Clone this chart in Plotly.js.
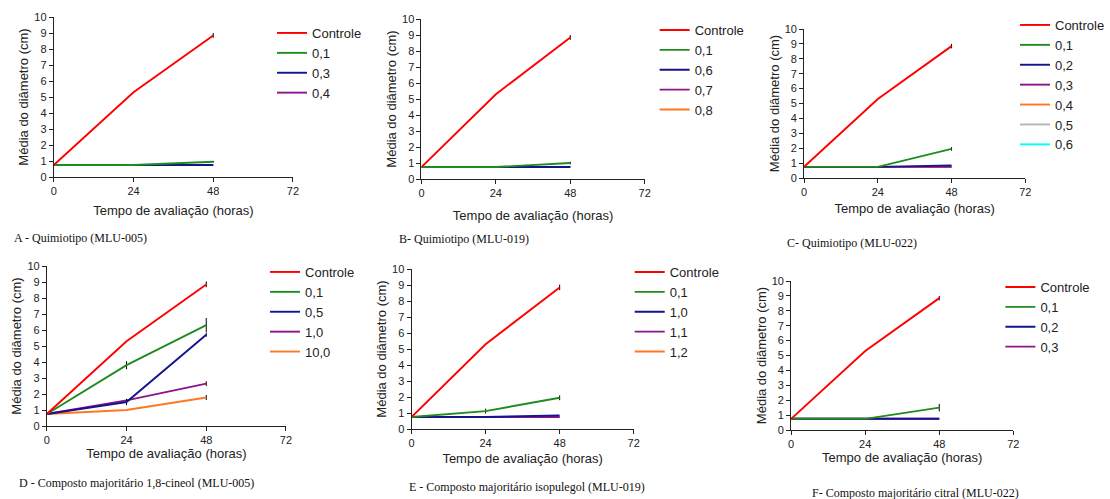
<!DOCTYPE html>
<html>
<head>
<meta charset="utf-8">
<script src="https://cdn.plot.ly/plotly-3.0.1.min.js"></script>
<style>html,body{margin:0;padding:0;background:#fff;}#chart{width:1110px;height:499px;}</style>
</head>
<body>
<div id="chart"></div>
<script>
// ---------- data ----------
const hours = [0, 24, 48];
const xTickVals = [0, 24, 48, 72];
const xTitle = 'Tempo de avaliação (horas)';
const yTitle = 'Média do diâmetro (cm)';

// Panel A - Quimiotipo (MLU-005)
const labelsA = ['Controle', '0,1', '0,3', '0,4'];
const valuesA = [[0.75, 5.3, 8.85], [0.75, 0.75, 0.95], [0.75, 0.75, 0.75], [0.75, 0.75, 0.75]];
const errorsA = [[0, 0, 0.15], [0, 0, 0.05], [0, 0, 0], [0, 0, 0]];
// Panel B - Quimiotipo (MLU-019)
const labelsB = ['Controle', '0,1', '0,6', '0,7', '0,8'];
const valuesB = [[0.75, 5.3, 8.85], [0.75, 0.75, 1.0], [0.75, 0.75, 0.75], [0.75, 0.75, 0.75], [0.75, 0.75, 0.75]];
const errorsB = [[0, 0, 0.15], [0, 0, 0.08], [0, 0, 0], [0, 0, 0], [0, 0, 0]];
// Panel C - Quimiotipo (MLU-022)
const labelsC = ['Controle', '0,1', '0,2', '0,3', '0,4', '0,5', '0,6'];
const valuesC = [[0.75, 5.3, 8.85], [0.75, 0.75, 1.95], [0.75, 0.75, 0.85], [0.75, 0.75, 0.75], [0.75, 0.75, 0.75], [0.75, 0.75, 0.75], [0.75, 0.75, 0.75]];
const errorsC = [[0, 0, 0.15], [0, 0, 0.12], [0, 0, 0], [0, 0, 0], [0, 0, 0], [0, 0, 0], [0, 0, 0]];
// Panel D - Composto majoritário 1,8-cineol (MLU-005)
const labelsD = ['Controle', '0,1', '0,5', '1,0', '10,0'];
const valuesD = [[0.75, 5.3, 8.85], [0.75, 3.8, 6.3], [0.75, 1.5, 5.7], [0.75, 1.6, 2.65], [0.75, 1.0, 1.78]];
const errorsD = [[0, 0, 0.18], [0, 0.25, 0.45], [0, 0.2, 0.12], [0, 0, 0.15], [0, 0, 0.16]];
// Panel E - Composto majoritário isopulegol (MLU-019)
const labelsE = ['Controle', '0,1', '1,0', '1,1', '1,2'];
const valuesE = [[0.75, 5.3, 8.85], [0.75, 1.12, 1.95], [0.75, 0.75, 0.85], [0.75, 0.75, 0.75], [0.75, 0.75, 0.75]];
const errorsE = [[0, 0, 0.17], [0, 0.15, 0.15], [0, 0, 0], [0, 0, 0], [0, 0, 0]];
// Panel F - Composto majoritário citral (MLU-022)
const labelsF = ['Controle', '0,1', '0,2', '0,3'];
const valuesF = [[0.75, 5.3, 8.85], [0.75, 0.75, 1.5], [0.75, 0.75, 0.75], [0.75, 0.75, 0.75]];
const errorsF = [[0, 0, 0.15], [0, 0, 0.25], [0, 0, 0], [0, 0, 0]];

const captions = [
  'A - Quimiotipo (MLU-005)',
  'B- Quimiotipo (MLU-019)',
  'C- Quimiotipo (MLU-022)',
  'D - Composto majoritário 1,8-cineol (MLU-005)',
  'E - Composto majoritário isopulegol (MLU-019)',
  'F- Composto majoritário citral (MLU-022)'
];

// ---------- styling / layout ----------
const W = 1110, H = 499;
const palette = ['#ff0000', '#1e8c1e', '#14148c', '#8c148c', '#ff7820', '#b4b4b4', '#00ffff'];
const sans = 'Liberation Sans, Arial, sans-serif';
const serif = 'Liberation Serif, Times New Roman, serif';

// pixel geometry of each panel: plot box, legend, caption, title standoffs
const panels = [
  {labels: labelsA, values: valuesA, errors: errorsA, x0: 54,  x1: 294,  yt: 17,  yb: 177, lx: 313,  ly: 28,  cx: 12,  cy: 238, xs: 9,  ys: 2},
  {labels: labelsB, values: valuesB, errors: errorsB, x0: 423, x1: 647,  yt: 19,  yb: 179, lx: 697,  ly: 25,  cx: 398, cy: 239, xs: 12, ys: 2},
  {labels: labelsC, values: valuesC, errors: errorsC, x0: 807, x1: 1029, yt: 29,  yb: 178, lx: 1059, ly: 20,  cx: 788, cy: 243, xs: 6,  ys: 2},
  {labels: labelsD, values: valuesD, errors: errorsD, x0: 47,  x1: 287,  yt: 266, yb: 426, lx: 306,  ly: 267, cx: 17,  cy: 483, xs: 0,  ys: 2},
  {labels: labelsE, values: valuesE, errors: errorsE, x0: 413, x1: 636,  yt: 269, yb: 429, lx: 672,  ly: 267, cx: 408, cy: 487, xs: 5,  ys: 2},
  {labels: labelsF, values: valuesF, errors: errorsF, x0: 794, x1: 1017, yt: 281, yb: 430, lx: 1044, ly: 282, cx: 813, cy: 493, xs: 3,  ys: 2}
];

const traces = [];
const layout = {
  width: W, height: H,
  margin: {l: 0, r: 0, t: 0, b: 0, pad: 0},
  paper_bgcolor: '#ffffff', plot_bgcolor: '#ffffff',
  font: {family: sans, size: 11, color: '#222'},
  showlegend: true,
  annotations: []
};

panels.forEach((p, i) => {
  const n = i === 0 ? '' : String(i + 1);
  const xa = 'x' + n, ya = 'y' + n;
  const legendId = 'legend' + n;
  // add traces in reverse order so the first series is drawn on top
  for (let k = p.labels.length - 1; k >= 0; k--) {
    traces.push({
      type: 'scatter', mode: 'lines',
      x: hours, y: p.values[k],
      name: p.labels[k],
      xaxis: xa, yaxis: ya, legend: legendId,
      line: {color: palette[k], width: 1.9},
      error_y: {type: 'data', array: p.errors[k], visible: true, color: '#000', thickness: 1, width: 0},
      hoverinfo: 'x+y+name'
    });
  }
  layout['xaxis' + n] = {
    domain: [p.x0 / W, p.x1 / W], anchor: ya,
    range: [0, 72], tickvals: xTickVals, ticktext: xTickVals.map(String),
    showgrid: false, zeroline: false, showline: true, linecolor: '#222', linewidth: 1,
    ticks: 'outside', ticklen: 4, tickcolor: '#222', tickfont: {size: 11, color: '#222', family: sans},
    title: {text: xTitle, font: {size: 13, color: '#222', family: sans}, standoff: p.xs},
    automargin: false, fixedrange: true
  };
  layout['yaxis' + n] = {
    domain: [1 - p.yb / H, 1 - p.yt / H], anchor: xa,
    range: [0, 10], dtick: 1, tick0: 0,
    showgrid: false, zeroline: false, showline: true, linecolor: '#222', linewidth: 1,
    ticks: 'outside', ticklen: 4, tickcolor: '#222', tickfont: {size: 11, color: '#222', family: sans},
    title: {text: yTitle, font: {size: 13, color: '#222', family: sans}, standoff: p.ys},
    automargin: false, fixedrange: true
  };
  layout[legendId] = {
    x: (p.lx - 40) / W, xanchor: 'left',
    y: 1 - (p.ly - 10) / H, yanchor: 'top',
    traceorder: 'reversed',
    bgcolor: 'rgba(0,0,0,0)', borderwidth: 0,
    font: {size: 13, color: '#222', family: sans},
    itemwidth: 30
  };
  layout.annotations.push({
    xref: 'paper', yref: 'paper', x: p.cx / W, y: 1 - p.cy / H,
    xanchor: 'left', yanchor: 'middle', showarrow: false,
    text: captions[i], font: {family: serif, size: 12, color: '#111'}
  });
});

Plotly.newPlot('chart', traces, layout, {displayModeBar: false, staticPlot: true});
</script>
</body>
</html>
